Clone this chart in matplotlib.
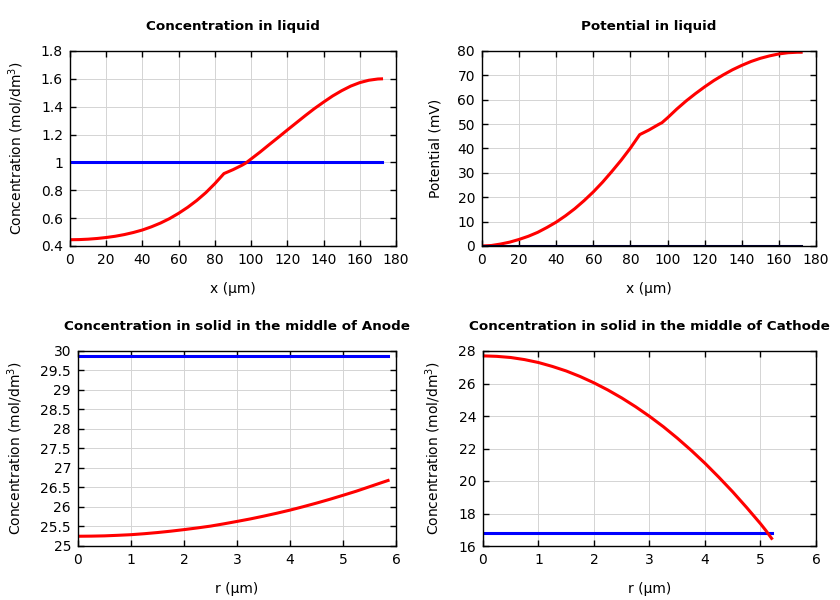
import matplotlib
matplotlib.use("Agg")
import matplotlib.pyplot as plt

# Concentration in liquid
x_liq = [0, 5, 10, 15, 20, 25, 30, 35, 40, 45, 50, 55, 60, 65, 70, 75, 80, 85, 90, 95, 97,
         100, 105, 110, 115, 120, 125, 130, 135, 140, 145, 150, 155, 160, 165, 170, 172]
c_liq_red = [0.445, 0.446, 0.449, 0.454, 0.461, 0.470, 0.482, 0.497, 0.515, 0.538, 0.565, 0.597,
             0.635, 0.678, 0.727, 0.783, 0.848, 0.920, 0.948, 0.980, 0.995,
             1.025, 1.075, 1.128, 1.180, 1.233, 1.285, 1.337, 1.387, 1.433, 1.477, 1.515,
             1.548, 1.573, 1.590, 1.599, 1.600]
c_liq_blue = [1.0] * len(x_liq)

# Potential in liquid
p_liq_red = [0.0, 0.2, 0.8, 1.6, 2.7, 4.0, 5.6, 7.6, 9.8, 12.4, 15.3, 18.6, 22.2, 26.2, 30.6,
             35.2, 40.2, 45.7, 47.6, 49.8, 50.6,
             52.6, 56.2, 59.5, 62.5, 65.3, 67.9, 70.2, 72.3, 74.1, 75.7, 77.0, 78.0, 78.8,
             79.3, 79.5, 79.5]
p_liq_base = [0.0] * len(x_liq)

# Anode solid
r_an = [0, 0.25, 0.5, 0.75, 1, 1.25, 1.5, 1.75, 2, 2.25, 2.5, 2.75, 3, 3.25, 3.5, 3.75,
        4, 4.25, 4.5, 4.75, 5, 5.25, 5.5, 5.75, 5.85]
c_an_red = [25.25, 25.253, 25.26, 25.274, 25.29, 25.315, 25.345, 25.38, 25.42, 25.463, 25.51,
            25.568, 25.63, 25.694, 25.765, 25.84, 25.92, 26.008, 26.10, 26.197, 26.30,
            26.405, 26.52, 26.635, 26.68]
c_an_blue = [29.87] * len(r_an)

# Cathode solid
r_ca = [0, 0.25, 0.5, 0.75, 1, 1.25, 1.5, 1.75, 2, 2.25, 2.5, 2.75, 3, 3.25, 3.5, 3.75,
        4, 4.25, 4.5, 4.75, 5, 5.1, 5.2]
c_ca_red = [27.70, 27.67, 27.60, 27.47, 27.29, 27.05, 26.77, 26.43, 26.04, 25.60, 25.11, 24.57,
            23.98, 23.34, 22.64, 21.89, 21.09, 20.23, 19.33, 18.37, 17.37, 16.94, 16.47]
c_ca_blue = [16.8] * len(r_ca)

conc_label = r"Concentration (mol/dm$^3$)"

fig = plt.figure(figsize=(8.4, 6), dpi=100)
W, H = 840, 600

def mk(l, t, r, b):
    return fig.add_axes([l / W, 1 - b / H, (r - l) / W, (b - t) / H])

axes = [mk(70, 51, 396, 246), mk(482, 51, 816, 246), mk(78, 351, 396, 546), mk(483, 351, 816, 546)]

def style(ax, title, xlabel, ylabel, xlim, xticks, ylim, yticks, yfmt=None):
    ax.set_xlim(*xlim)
    ax.set_ylim(*ylim)
    ax.set_xticks(xticks)
    ax.set_yticks(yticks)
    if yfmt is not None:
        ax.set_yticklabels(yfmt)
    ax.grid(True, color='#d4d4d4', linewidth=0.7)
    ax.set_axisbelow(True)
    ax.tick_params(direction='in', top=True, right=True, length=4, width=1, labelsize=10, pad=5)
    for s in ax.spines.values():
        s.set_linewidth(1.0)
    ax.set_title(title, fontsize=9.7, fontweight='bold', pad=15)
    ax.set_xlabel(xlabel, fontsize=10, labelpad=11)
    ax.set_ylabel(ylabel, fontsize=10, labelpad=11)

ax = axes[0]
ax.plot(x_liq, c_liq_blue, color='blue', lw=2.2)
ax.plot(x_liq, c_liq_red, color='red', lw=2.2)
style(ax, "Concentration in liquid", "x (µm)", conc_label, (0, 180), range(0, 181, 20),
      (0.4, 1.8), [0.4, 0.6, 0.8, 1.0, 1.2, 1.4, 1.6, 1.8],
      ["0.4", "0.6", "0.8", "1", "1.2", "1.4", "1.6", "1.8"])

ax = axes[1]
ax.plot(x_liq, p_liq_red, color='red', lw=2.2)
ax.plot(x_liq, p_liq_base, color='#000030', lw=2.2)
style(ax, "Potential in liquid", "x (µm)", "Potential (mV)", (0, 180), range(0, 181, 20),
      (0, 80), range(0, 81, 10))

ax = axes[2]
ax.plot(r_an, c_an_blue, color='blue', lw=2.2)
ax.plot(r_an, c_an_red, color='red', lw=2.2)
yt = [25, 25.5, 26, 26.5, 27, 27.5, 28, 28.5, 29, 29.5, 30]
style(ax, "Concentration in solid in the middle of Anode", "r (µm)", conc_label, (0, 6), range(0, 7),
      (25, 30), yt, [("%g" % v) for v in yt])

ax = axes[3]
ax.plot(r_ca, c_ca_blue, color='blue', lw=2.2)
ax.plot(r_ca, c_ca_red, color='red', lw=2.2)
style(ax, "Concentration in solid in the middle of Cathode", "r (µm)", conc_label, (0, 6), range(0, 7),
      (16, 28), range(16, 29, 2))

fig.savefig("out.png", dpi=100)
